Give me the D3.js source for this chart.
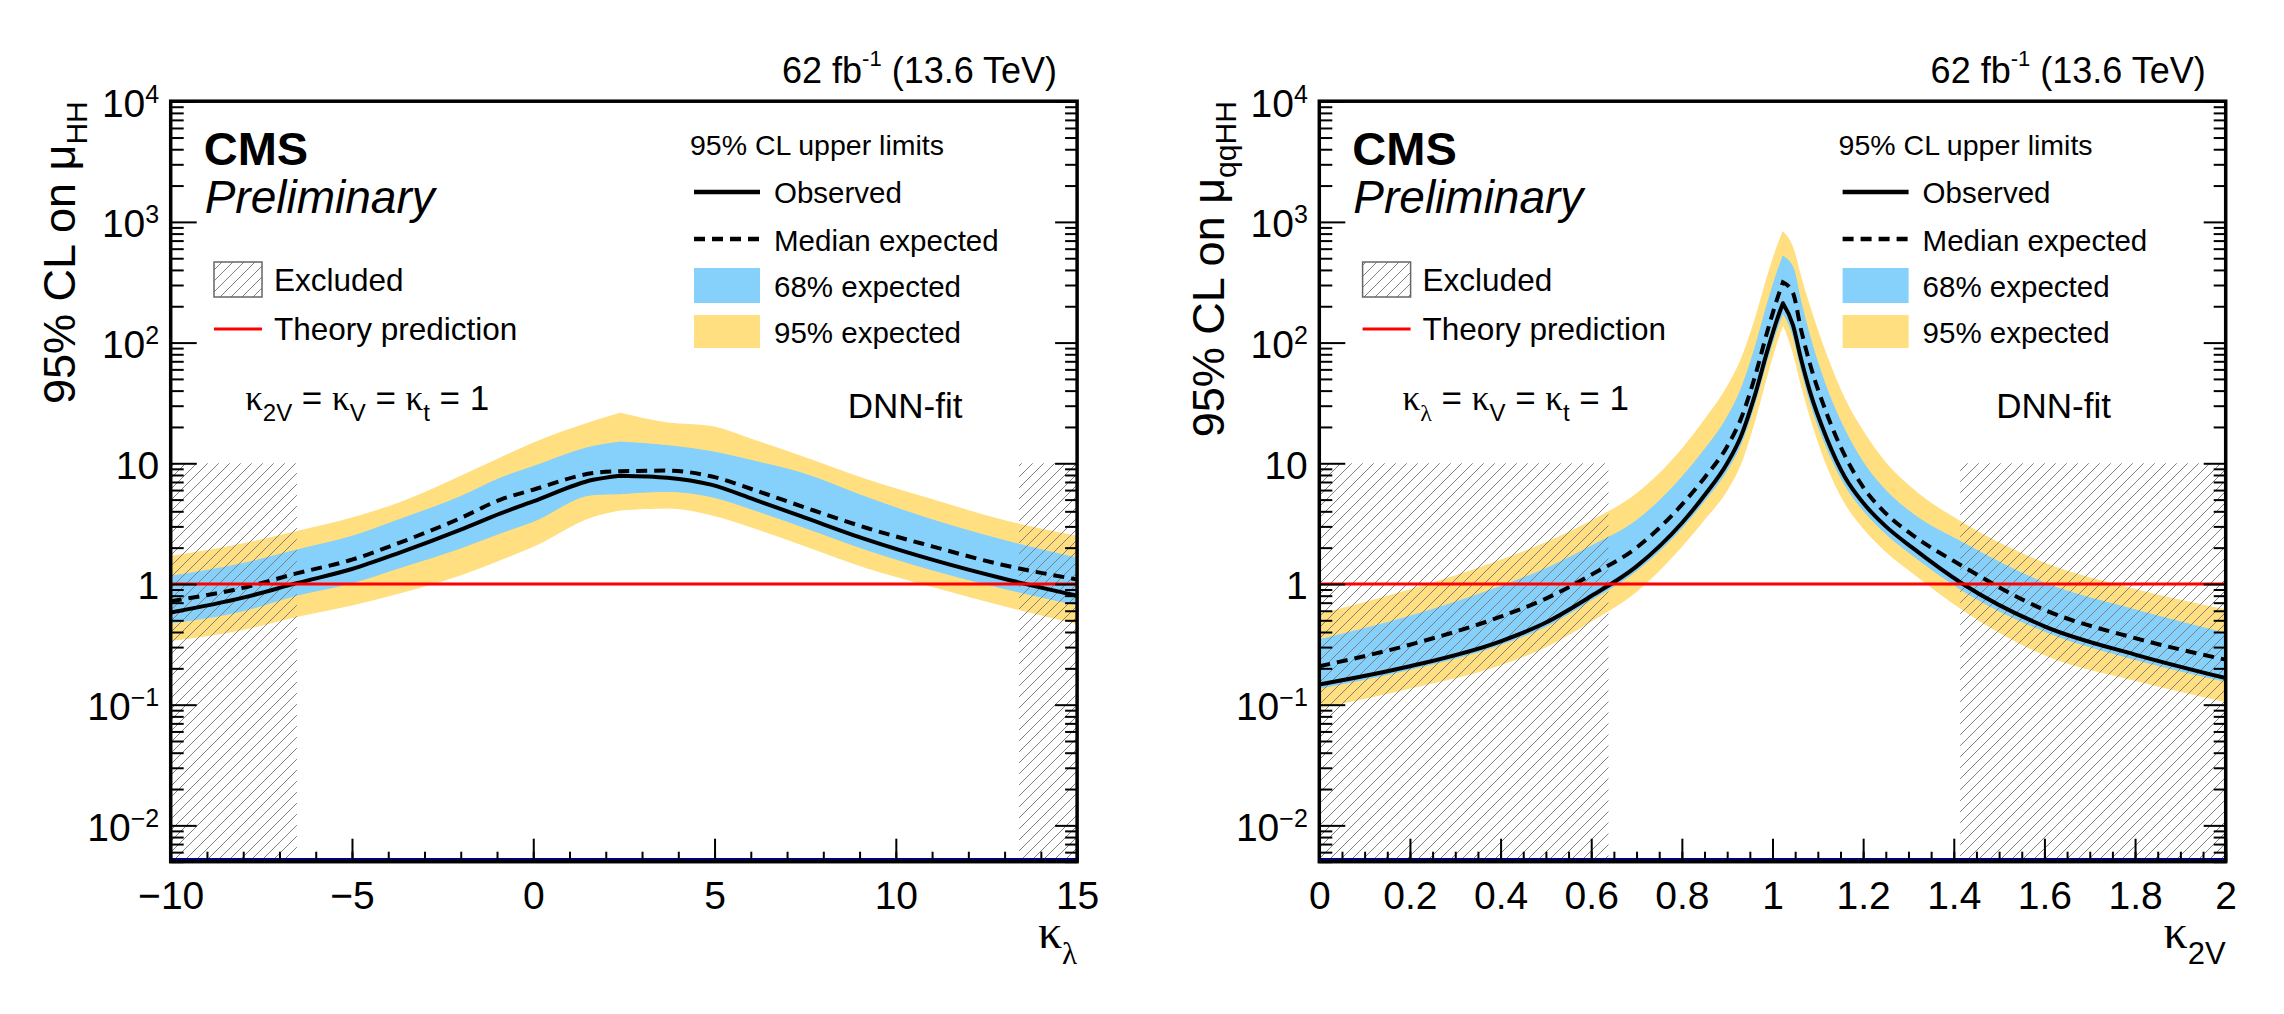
<!DOCTYPE html>
<html>
<head>
<meta charset="utf-8">
<script src="https://cdn.jsdelivr.net/npm/d3@7"></script>
<style>
  body { margin: 0; background: #fff; }
</style>
</head>
<body>
<div id="chart"></div>
<script>
// ---- data ----
// left panel: scan in kappa_lambda
const klX     = [-10, -8, -6.5, -5, -3.7, -2, -0.9, 0, 1.65, 2.4, 3.7, 4.9, 6.1, 7.4, 9.2, 11, 12.9, 15];
const klObs   = [0.58, 0.77, 1.02, 1.33, 1.81, 2.82, 3.85, 4.83, 7.3, 7.9, 7.6, 6.65, 5.0, 3.63, 2.33, 1.59, 1.12, 0.80];
const klExp   = [0.72, 0.93, 1.23, 1.59, 2.19, 3.52, 5.0, 6.04, 8.3, 8.6, 8.7, 7.8, 6.0, 4.4, 2.91, 2.05, 1.45, 1.09];
const klLo68  = [0.475, 0.6, 0.81, 1.02, 1.36, 1.99, 2.65, 3.3, 5.5, 5.6, 5.85, 5.3, 4.1, 3.0, 1.92, 1.31, 0.93, 0.67];
const klHi68  = [1.16, 1.48, 1.92, 2.48, 3.41, 5.3, 7.55, 9.4, 13.8, 15.0, 14.0, 12.5, 10.4, 8.3, 5.2, 3.4, 2.33, 1.64];
const klLo95  = [0.34, 0.42, 0.54, 0.67, 0.84, 1.19, 1.59, 2.05, 3.63, 4.1, 4.26, 3.75, 2.91, 2.12, 1.36, 0.955, 0.67, 0.47];
const klHi95  = [1.69, 2.15, 2.73, 3.52, 4.69, 7.8, 11.1, 14.7, 22.2, 26, 21.6, 20.2, 15.5, 11.4, 7.3, 5.0, 3.4, 2.48];
const klPeak  = 9;
const klExcluded = [[-10, -6.52], [13.4, 15]];
const klTicks = [-10, -5, 0, 5, 10, 15];

// right panel: scan in kappa_2V
const k2vX    = [0, 0.2, 0.4, 0.5, 0.6, 0.7, 0.8, 0.85, 0.9, 0.93, 0.96, 0.99, 1.01, 1.023, 1.045, 1.063, 1.082, 1.12, 1.16, 1.2, 1.25, 1.31, 1.42, 1.6, 1.8, 2.0];
const k2vObs  = [0.147, 0.208, 0.335, 0.479, 0.794, 1.40, 3.2, 5.43, 10.0, 16.6, 35.5, 89, 155, 212, 140, 73, 40, 16, 7.66, 4.7, 3.0, 1.98, 1.0, 0.446, 0.26, 0.166];
const k2vExp  = [0.208, 0.314, 0.536, 0.757, 1.19, 2.0, 4.54, 7.6, 13.8, 23.2, 50.4, 129, 228, 316, 259, 128, 68, 25.6, 11.5, 6.35, 3.84, 2.53, 1.4, 0.611, 0.356, 0.236];
const k2vLo68 = [0.137, 0.196, 0.315, 0.445, 0.738, 1.29, 2.91, 4.9, 8.8, 14.4, 30.5, 75.6, 130, 176, 115, 60.6, 33.2, 13.4, 6.59, 4.09, 2.61, 1.72, 0.88, 0.406, 0.237, 0.156];
const k2vHi68 = [0.345, 0.541, 0.955, 1.34, 2.06, 3.36, 7.68, 13.0, 24.1, 40.6, 87, 218, 380, 519, 420, 215, 114, 41.5, 18.7, 10.2, 5.95, 3.8, 2.2, 1.02, 0.611, 0.39];
const k2vLo95 = [0.094, 0.137, 0.214, 0.302, 0.492, 0.868, 2.05, 3.43, 6.0, 9.95, 22, 57, 102, 142, 84, 45.3, 25.2, 9.6, 4.67, 2.91, 1.86, 1.23, 0.61, 0.259, 0.159, 0.106];
const k2vHi95 = [0.559, 0.894, 1.57, 2.2, 3.33, 5.6, 13.1, 22.9, 43, 71.4, 149, 365, 620, 827, 609, 344, 200, 77, 33.7, 18.4, 10.1, 6.1, 3.2, 1.49, 0.9, 0.61];
const k2vPeak = 13;
const k2vExcluded = [[0, 0.638], [1.414, 2]];
const k2vTicks = [0, 0.2, 0.4, 0.6, 0.8, 1, 1.2, 1.4, 1.6, 1.8, 2];

// shared y axis
const yDomain = [0.005, 1e4];
const yMajor = [1e-2, 1e-1, 1, 10, 1e2, 1e3, 1e4];
const yTickLabels = [["10", "\u22122"], ["10", "\u22121"], ["1", ""], ["10", ""], ["10", "2"], ["10", "3"], ["10", "4"]];
const excludedTop = 10;
const theory = 1;

// ---- layout ----
const W = 2284, H = 1014;
const plotTop = 101.2, plotBottom = 861.7, plotW = 906.4;
const FONT = "'Liberation Sans', Arial, Helvetica, sans-serif";
const SERIF = "'Liberation Serif', 'Times New Roman', serif";
const C68 = "#85D1FB", C95 = "#FFDF7F";

const svg = d3.select("#chart").append("svg")
    .attr("width", W)
    .attr("height", H)
    .style("font-family", FONT);

svg.append("rect").attr("width", W).attr("height", H).attr("fill", "#fff");

const defs = svg.append("defs");
const hatch = defs.append("pattern")
    .attr("id", "hatch")
    .attr("patternUnits", "userSpaceOnUse")
    .attr("width", 11)
    .attr("height", 11);
hatch.append("path")
    .attr("d", "M0,11 L11,0 M-3,3 L3,-3 M8,14 L14,8")
    .attr("stroke", "#808080")
    .attr("stroke-width", 1);

function joinLine(gen, parts) {
  // stitch the two halves so the cusp gets a proper line join
  let a = gen(parts[0]);
  let b = gen(parts[1]).replace(/^M[^A-Za-z]*/, "");
  return a + b;
}

function drawPanel(p) {
  const x = d3.scaleLinear().domain(p.xDomain).range([p.left, p.left + plotW]);
  const y = d3.scaleLog().domain(yDomain).range([plotBottom, plotTop]);
  const right = p.left + plotW;

  defs.append("clipPath").attr("id", "clip" + p.id)
    .append("rect")
      .attr("x", p.left).attr("y", plotTop)
      .attr("width", plotW).attr("height", plotBottom - plotTop);

  const g = svg.append("g");
  const plot = g.append("g").attr("clip-path", "url(#clip" + p.id + ")");

  const rows = p.xs.map((v, i) => ({
    x: v, obs: p.obs[i], exp: p.exp[i],
    lo68: p.lo68[i], hi68: p.hi68[i], lo95: p.lo95[i], hi95: p.hi95[i]
  }));
  const parts = [rows.slice(0, p.peak + 1), rows.slice(p.peak)];

  const band = (lo, hi) => d3.area()
      .x(d => x(d.x))
      .y0(d => y(d[lo]))
      .y1(d => y(d[hi]))
      .curve(d3.curveMonotoneX);

  [["lo95", "hi95", C95], ["lo68", "hi68", C68]].forEach(([lo, hi, col]) => {
    parts.forEach(part => {
      plot.append("path")
          .attr("d", band(lo, hi)(part))
          .attr("fill", col)
          .attr("stroke", col)
          .attr("stroke-width", 1);
    });
  });

  p.excluded.forEach(([a, b]) => {
    plot.append("rect")
        .attr("x", x(a))
        .attr("y", y(excludedTop))
        .attr("width", x(b) - x(a))
        .attr("height", plotBottom - y(excludedTop))
        .attr("fill", "url(#hatch)");
  });

  const line = key => d3.line().x(d => x(d.x)).y(d => y(d[key])).curve(d3.curveMonotoneX);

  plot.append("path")
      .attr("d", joinLine(line("exp"), parts))
      .attr("fill", "none")
      .attr("stroke", "#000")
      .attr("stroke-width", 4)
      .attr("stroke-dasharray", "11 7");

  plot.append("path")
      .attr("d", joinLine(line("obs"), parts))
      .attr("fill", "none")
      .attr("stroke", "#000")
      .attr("stroke-width", 4)
      .attr("stroke-linejoin", "round");

  plot.append("line")
      .attr("x1", p.left).attr("x2", right)
      .attr("y1", y(theory)).attr("y2", y(theory))
      .attr("stroke", "#ff0000")
      .attr("stroke-width", 3);

  plot.append("line")
      .attr("x1", p.left).attr("x2", right)
      .attr("y1", plotBottom - 2.5).attr("y2", plotBottom - 2.5)
      .attr("stroke", "#00007a")
      .attr("stroke-width", 2.5);

  // ---- axes ----
  const yMinor = [];
  for (let e = -3; e < 4; e++) {
    for (let k = 2; k <= 9; k++) {
      const v = k * Math.pow(10, e);
      if (v >= yDomain[0] && v <= yDomain[1]) yMinor.push(v);
    }
  }
  const tidy = sel => {
    sel.select(".domain").remove();
    sel.selectAll(".tick line").attr("stroke", "#000").attr("stroke-width", 2);
  };

  g.append("g").attr("transform", "translate(" + p.left + ",0)")
      .call(d3.axisLeft(y).tickValues(yMinor).tickSize(-13).tickFormat(""))
      .call(tidy);
  g.append("g").attr("transform", "translate(" + right + ",0)")
      .call(d3.axisRight(y).tickValues(yMinor).tickSize(-12).tickFormat(""))
      .call(tidy);
  g.append("g").attr("transform", "translate(" + right + ",0)")
      .call(d3.axisRight(y).tickValues(yMajor).tickSize(-22).tickFormat(""))
      .call(tidy);

  const yAxis = g.append("g").attr("transform", "translate(" + p.left + ",0)")
      .call(d3.axisLeft(y).tickValues(yMajor).tickSize(-26).tickPadding(11.5))
      .call(tidy);
  yAxis.selectAll(".tick text").each(function(d) {
    const lab = yTickLabels[yMajor.indexOf(d)];
    const t = d3.select(this)
        .text(null)
        .attr("dy", "0.38em")
        .attr("fill", "#000")
        .style("font-family", FONT)
        .attr("font-size", 39);
    t.append("tspan").text(lab[0]);
    if (lab[1]) t.append("tspan").attr("font-size", 25).attr("dy", -14).text(lab[1]);
  });

  g.append("g").attr("transform", "translate(0," + plotBottom + ")")
      .call(d3.axisBottom(x).tickValues(p.minor).tickSize(-10).tickFormat(""))
      .call(tidy);
  const xAxis = g.append("g").attr("transform", "translate(0," + plotBottom + ")")
      .call(d3.axisBottom(x).tickValues(p.ticks).tickSize(-23).tickPadding(20).tickFormat(p.fmt))
      .call(tidy);
  xAxis.selectAll(".tick text")
      .attr("fill", "#000")
      .style("font-family", FONT)
      .attr("font-size", 39);

  g.append("rect")
      .attr("x", p.left).attr("y", plotTop)
      .attr("width", plotW).attr("height", plotBottom - plotTop)
      .attr("fill", "none")
      .attr("stroke", "#000")
      .attr("stroke-width", 3.5);

  // ---- axis titles ----
  const yt = g.append("text")
      .attr("transform", "translate(" + (p.left - 95.7) + "," + plotTop + ") rotate(-90)")
      .attr("text-anchor", "end")
      .attr("font-size", 45);
  yt.append("tspan").text("95% CL on \u03bc");
  yt.append("tspan").attr("font-size", 30).attr("dy", 12).text(p.yTitleSub);

  const xt = g.append("text")
      .attr("x", right)
      .attr("y", 948)
      .attr("text-anchor", "end");
  xt.append("tspan").style("font-family", SERIF).attr("font-size", 48).text("\u03ba");
  xt.append("tspan")
      .style("font-family", p.xSubSerif ? SERIF : FONT)
      .attr("font-size", 31).attr("dy", 16).text(p.xSub);

  // ---- header and labels ----
  const hd = g.append("text")
      .attr("x", right - 20)
      .attr("y", 83)
      .attr("text-anchor", "end")
      .attr("font-size", 36);
  hd.append("tspan").text("62 fb");
  hd.append("tspan").attr("font-size", 22).attr("dy", -17).text("-1");
  hd.append("tspan").attr("dy", 17).text(" (13.6 TeV)");

  g.append("text")
      .attr("x", p.left + 33).attr("y", 165)
      .attr("font-size", 47).attr("font-weight", "bold")
      .text("CMS");
  g.append("text")
      .attr("x", p.left + 34).attr("y", 213)
      .attr("font-size", 46).attr("font-style", "italic")
      .text("Preliminary");

  g.append("rect")
      .attr("x", p.left + 43.3).attr("y", 262)
      .attr("width", 48).attr("height", 35)
      .attr("fill", "url(#hatch)")
      .attr("stroke", "#666")
      .attr("stroke-width", 1.5);
  g.append("text")
      .attr("x", p.left + 103.3).attr("y", 291)
      .attr("font-size", 31.5)
      .text("Excluded");
  g.append("line")
      .attr("x1", p.left + 43.3).attr("x2", p.left + 91.3)
      .attr("y1", 329).attr("y2", 329)
      .attr("stroke", "#ff0000").attr("stroke-width", 3);
  g.append("text")
      .attr("x", p.left + 103.3).attr("y", 340)
      .attr("font-size", 31.5)
      .text("Theory prediction");

  const kt = g.append("text")
      .attr("x", p.left + 196.5).attr("y", 410)
      .attr("text-anchor", "middle")
      .attr("font-size", 35);
  p.fixed.forEach((sub, i) => {
    if (i > 0) kt.append("tspan").attr("dy", -11).text(" = ");
    kt.append("tspan").style("font-family", SERIF).text("\u03ba");
    kt.append("tspan")
        .style("font-family", sub === "\u03bb" ? SERIF : FONT)
        .attr("font-size", 24).attr("dy", 11).text(sub);
  });
  kt.append("tspan").attr("dy", -11).text(" = 1");

  g.append("text")
      .attr("x", p.left + 677).attr("y", 418)
      .attr("font-size", 35)
      .text("DNN-fit");

  // ---- legend ----
  const lx = p.left + 523.3, tx = p.left + 603.3;
  g.append("text")
      .attr("x", p.left + 519.3).attr("y", 155)
      .attr("font-size", 28.5)
      .text("95% CL upper limits");
  g.append("line")
      .attr("x1", lx).attr("x2", lx + 66).attr("y1", 192).attr("y2", 192)
      .attr("stroke", "#000").attr("stroke-width", 4.5);
  g.append("line")
      .attr("x1", lx).attr("x2", lx + 66).attr("y1", 239).attr("y2", 239)
      .attr("stroke", "#000").attr("stroke-width", 4.5)
      .attr("stroke-dasharray", "11 7");
  g.append("rect").attr("x", lx).attr("y", 268).attr("width", 66).attr("height", 35).attr("fill", C68);
  g.append("rect").attr("x", lx).attr("y", 315).attr("width", 66).attr("height", 33).attr("fill", C95);
  [["Observed", 203], ["Median expected", 251], ["68% expected", 297], ["95% expected", 343]]
    .forEach(([label, by]) => {
      g.append("text").attr("x", tx).attr("y", by).attr("font-size", 29.5).text(label);
    });
}

const fmtKl = d => (d < 0 ? "\u2212" : "") + Math.abs(d);
const fmtK2v = d => String(+d.toFixed(1));

drawPanel({
  id: "kl", left: 170.7, xDomain: [-10, 15],
  xs: klX, obs: klObs, exp: klExp, lo68: klLo68, hi68: klHi68, lo95: klLo95, hi95: klHi95,
  peak: klPeak, excluded: klExcluded,
  ticks: klTicks, minor: d3.range(-10, 15.5, 1), fmt: fmtKl,
  yTitleSub: "HH", xSub: "\u03bb", xSubSerif: true,
  fixed: ["2V", "V", "t"]
});

drawPanel({
  id: "k2v", left: 1319.3, xDomain: [0, 2],
  xs: k2vX, obs: k2vObs, exp: k2vExp, lo68: k2vLo68, hi68: k2vHi68, lo95: k2vLo95, hi95: k2vHi95,
  peak: k2vPeak, excluded: k2vExcluded,
  ticks: k2vTicks, minor: d3.range(0, 2.01, 0.05), fmt: fmtK2v,
  yTitleSub: "qqHH", xSub: "2V", xSubSerif: false,
  fixed: ["\u03bb", "V", "t"]
});
</script>
</body>
</html>
